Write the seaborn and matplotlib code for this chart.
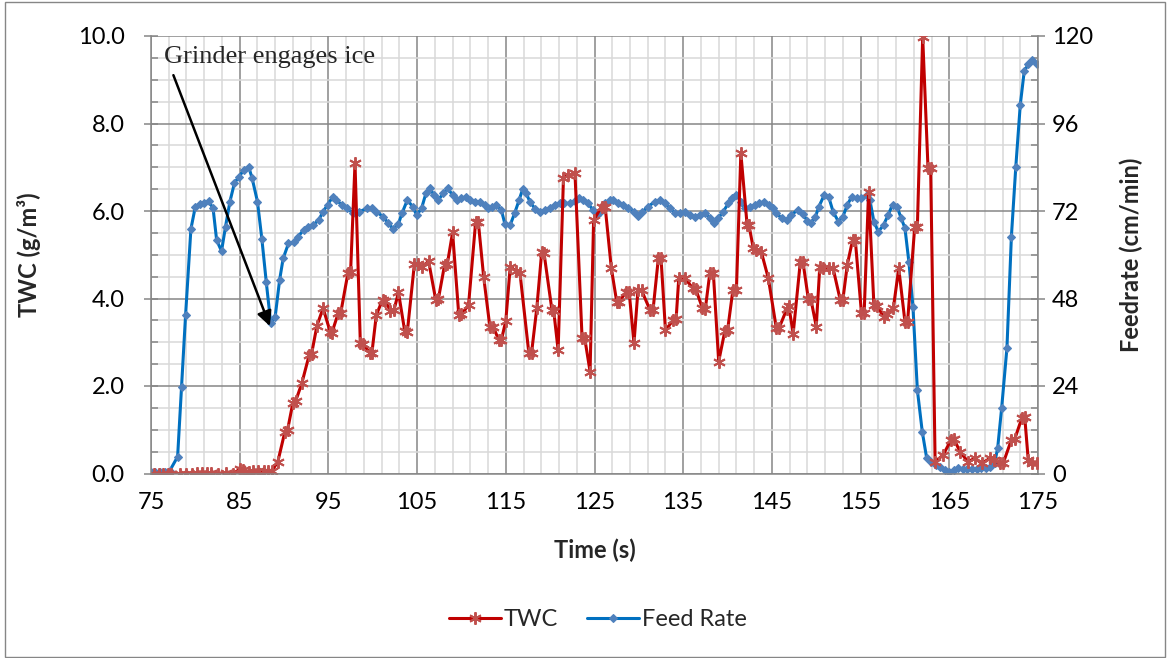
import matplotlib
matplotlib.use("Agg")
import matplotlib.pyplot as plt
import seaborn as sns
from matplotlib.ticker import AutoMinorLocator, FormatStrFormatter
from matplotlib.patches import Rectangle

sns.set_style("white")
plt.rcParams["font.family"] = ["Lato", "DejaVu Sans"]

# ---- data ----
time_twc = [75.3, 75.9, 76.4, 76.9, 77.3, 78.3, 78.9, 79.6, 80.2, 80.7, 81.3, 81.8, 82.5, 83.5,
            84.3, 85.0, 85.4, 86.0, 86.5, 87.1, 87.7, 88.2, 88.6, 89.3, 90.1, 90.4, 91.0, 91.3,
            92.0, 92.85, 93.1, 93.7, 94.4, 95.2, 95.4, 96.1, 96.4, 97.2, 97.5, 98.0, 98.6, 98.9,
            99.7, 99.9, 100.4, 101.1, 101.4, 102.0, 102.4, 102.9, 103.6, 103.9, 104.7, 105.1,
            105.5, 106.3, 107.1, 107.4, 108.1, 108.4, 109.0, 109.7, 110.0, 110.8, 111.6, 111.9,
            112.5, 113.2, 113.6, 114.2, 114.5, 115.0, 115.5, 116.2, 116.6, 117.6, 117.9, 118.5,
            119.05, 119.3, 120.2, 120.4, 120.9, 121.5, 122.0, 122.8, 123.6, 123.9, 124.5, 124.9,
            125.8, 126.2, 126.9, 127.5, 127.8, 128.6, 128.9, 129.45, 129.9, 130.3, 131.25, 131.6,
            132.2, 132.5, 133.0, 133.9, 134.2, 134.5, 135.2, 136.1, 136.4, 137.15, 137.5, 138.0,
            138.4, 139.0, 139.7, 140.0, 140.6, 141.0, 141.5, 142.2, 142.4, 142.9, 143.2, 143.8,
            144.6, 145.5, 145.8, 146.7, 146.9, 147.4, 148.2, 148.5, 149.1, 149.4, 150.0, 150.4,
            150.8, 151.4, 151.9, 152.7, 153.0, 153.5, 154.1, 154.4, 155.1, 155.4, 155.9, 156.5,
            156.9, 157.6, 158.0, 158.7, 159.3, 160.0, 160.3, 161.1, 161.4, 162.0, 162.6, 162.9,
            163.4, 164.3, 165.2, 165.5, 166.2, 167.1, 167.9, 168.65, 169.6, 170.0, 170.7, 171.1,
            172.0, 172.4, 173.2, 173.5, 173.9, 174.3, 174.85]
twc = [0.0, 0.0, 0.0, 0.0, 0.0, 0.0, 0.0, 0.0, 0.02, 0.02, 0.02, 0.02, 0.0, 0.02,
       0.0, 0.1, 0.08, 0.03, 0.06, 0.06, 0.06, 0.05, 0.05, 0.27, 0.96, 1.0, 1.62, 1.65,
       2.06, 2.72, 2.73, 3.37, 3.78, 3.24, 3.22, 3.66, 3.68, 4.58, 4.6, 7.09, 2.98, 2.96,
       2.75, 2.75, 3.62, 3.97, 3.95, 3.72, 3.74, 4.14, 3.26, 3.24, 4.8, 4.78,
       4.72, 4.85, 3.97, 3.99, 4.77, 4.78, 5.51, 3.62, 3.64, 3.85, 5.75, 5.75,
       4.5, 3.36, 3.35, 3.05, 3.05, 3.49, 4.73, 4.62, 4.58, 2.75, 2.75, 3.79,
       5.07, 5.05, 3.74, 3.72, 2.82, 6.75, 6.82, 6.86, 3.09, 3.09, 2.33, 5.79,
       6.1, 6.1, 4.69, 3.93, 3.93, 4.16, 4.16, 2.98, 4.19, 4.19, 3.74, 3.74,
       4.92, 4.92, 3.28, 3.51, 3.53, 4.46, 4.46, 4.23, 4.22, 3.79, 3.77, 4.58,
       4.58, 2.56, 3.26, 3.27, 4.19, 4.2, 7.32, 5.69, 5.69, 5.15, 5.1, 5.07,
       4.46, 3.32, 3.32, 3.77, 3.83, 3.2, 4.83, 4.84, 4.0, 3.98, 3.36, 4.73,
       4.7, 4.7, 4.69, 3.97, 3.97, 4.77, 5.34, 5.34, 3.66, 3.66, 6.44, 3.85,
       3.82, 3.58, 3.65, 3.79, 4.69, 3.47, 3.47, 5.64, 5.64, 9.98, 6.98, 6.98,
       0.27, 0.42, 0.77, 0.8, 0.5, 0.27, 0.35, 0.23, 0.35, 0.3, 0.23, 0.25,
       0.77, 0.8, 1.28, 1.3, 0.31, 0.25, 0.23]

time_feed = [75.0, 75.5, 76.0, 76.6, 77.1, 78.0, 78.45, 78.9, 79.5, 80.0, 80.5, 81.0, 81.5,
             82.0, 82.4, 82.95, 83.4, 83.9, 84.4, 84.9, 85.5, 86.0, 86.4, 87.0, 87.5, 88.0,
             88.5, 89.0, 89.5, 89.9, 90.5, 91.1, 91.6, 92.2, 92.7, 93.3, 93.9, 94.4, 94.9,
             95.5, 95.9, 96.5, 97.1, 97.8, 98.5, 99.3, 99.9, 100.4, 101.2, 101.75, 102.3,
             102.9, 103.3, 103.9, 104.5, 104.95, 105.5, 106.0, 106.45, 106.9, 107.4, 107.95,
             108.45, 109.0, 109.5, 110.0, 110.5, 110.95, 111.5, 112.1, 112.6, 113.0, 113.5,
             113.95, 114.5, 114.9, 115.5, 116.0, 116.5, 116.9, 117.3, 117.7, 118.3, 118.85,
             119.4, 120.0, 120.5, 121.1, 121.6, 122.2, 122.8, 123.3, 123.7, 124.3, 124.8,
             125.25, 125.6, 126.2, 126.7, 127.1, 127.7, 128.25, 128.8, 129.4, 129.9, 130.4,
             131.05, 131.8, 132.4, 132.9, 133.5, 134.1, 134.6, 135.2, 135.8, 136.3, 136.9,
             137.5, 138.0, 138.5, 138.95, 139.5, 140.1, 140.5, 141.0, 141.5, 141.95, 142.5,
             143.1, 143.6, 144.1, 144.7, 145.1, 145.5, 146.1, 146.7, 147.2, 147.9, 148.5,
             149.0, 149.4, 149.9, 150.3, 150.9, 151.4, 151.9, 152.5, 153.0, 153.5, 154.0,
             154.55, 155.1, 155.7, 156.05, 156.5, 157.0, 157.6, 158.1, 158.6, 159.1, 159.55,
             160.0, 160.45, 160.9, 161.4, 161.95, 162.45, 162.9, 163.5, 163.95, 164.5, 165.0,
             165.5, 166.0, 166.5, 167.0, 167.6, 168.1, 168.6, 169.1, 169.6, 170.1, 170.45,
             170.9, 171.5, 172.0, 172.5, 173.0, 173.45, 173.9, 174.35, 174.85]
feed = [0.5, 0.5, 0.5, 0.5, 0.7, 4.6, 23.8, 43.5, 67.1, 73.2, 74.0, 74.3, 74.7,
        72.7, 64.0, 61.0, 67.7, 74.6, 79.6, 81.4, 83.3, 84.2, 81.0, 74.6, 64.3, 52.4,
        41.2, 43.0, 53.1, 59.0, 63.1, 63.5, 65.0, 66.8, 67.7, 68.2, 69.5, 71.8, 73.7,
        75.9, 75.0, 73.7, 72.7, 71.4, 71.8, 72.7, 72.7, 71.8, 70.4, 68.6, 67.1,
        68.5, 71.4, 75.0, 73.2, 70.9, 72.7, 76.9, 78.2, 76.4, 75.0, 76.9,
        78.2, 76.4, 75.0, 75.5, 75.9, 75.0, 74.6, 74.6, 73.7, 72.7, 73.2,
        73.7, 72.3, 68.4, 68.2, 71.4, 75.0, 78.0, 76.9, 74.6, 72.6, 71.8,
        72.3, 72.9, 73.7, 74.1, 74.1, 74.1, 74.8, 75.5, 75.0, 74.1, 72.3,
        70.9, 71.8, 74.1, 75.0, 75.0, 74.1, 73.7, 72.9, 71.8, 70.6, 71.8,
        73.2, 74.6, 75.0, 74.1, 72.7, 71.4, 71.4, 71.8, 70.9, 70.4, 70.9,
        71.4, 70.0, 68.6, 70.0, 71.8, 74.1, 75.7, 76.4, 74.6, 72.7, 73.2,
        73.7, 74.1, 74.6, 73.7, 72.8, 71.4, 70.0, 69.5, 70.9, 72.3, 71.1,
        69.3, 68.6, 70.4, 73.2, 76.4, 75.9, 71.8, 69.1, 70.4, 73.7, 75.9,
        75.5, 75.5, 76.4, 75.0, 69.1, 66.3, 68.2, 70.9, 73.7, 73.2, 70.2,
        67.3, 57.9, 45.8, 22.9, 11.5, 4.2, 3.2, 2.3, 1.9, 1.0, 0.5,
        1.0, 1.4, 1.2, 1.2, 1.2, 1.3, 1.5, 1.5, 1.9, 2.8, 6.9,
        17.9, 34.5, 65.0, 84.2, 101.1, 110.4, 112.2, 113.4, 112.2]

x_ticks = [75, 85, 95, 105, 115, 125, 135, 145, 155, 165, 175]
twc_ticks = [0.0, 2.0, 4.0, 6.0, 8.0, 10.0]
feed_ticks = [0, 24, 48, 72, 96, 120]

note_text = "Grinder engages ice"
note_tip = (88.4, 3.37)
note_pos = (76.5, 9.52)

# ---- figure ----
W, H = 1170, 658
fig = plt.figure(figsize=(W / 100, H / 100), dpi=100)
fig.patch.set_facecolor("white")
ax = fig.add_axes([151 / W, 1 - 473.5 / H, 887 / W, 437.5 / H])
ax2 = ax.twinx()
# TWC drawn above the feed-rate series and the grid
ax.set_zorder(ax2.get_zorder() + 1)
ax.patch.set_visible(False)

GRID_MAJ = "#868686"
GRID_MIN = "#D9D9D9"
FS = 17

sns.lineplot(x=time_feed, y=feed, ax=ax2, color="#0070C0", linewidth=2.2,
             marker="D", markersize=4.5, markerfacecolor="#4F81BD",
             markeredgecolor="#4F81BD", markeredgewidth=0.8,
             sort=False, estimator=None, legend=False)
sns.lineplot(x=time_twc, y=twc, ax=ax, color="#C00000", linewidth=2.2,
             marker=(6, 2, 0), markersize=9, markeredgecolor="#C0504D",
             markerfacecolor="#C0504D", markeredgewidth=1.4,
             sort=False, estimator=None, legend=False)

ax.set_xlim(75, 175)
ax.set_ylim(0, 10)
ax2.set_ylim(0, 120)
ax.set_xticks(x_ticks)
ax.set_xticklabels([str(v) for v in x_ticks])
ax.xaxis.set_minor_locator(AutoMinorLocator(5))
ax.set_yticks(twc_ticks)
ax.yaxis.set_major_formatter(FormatStrFormatter("%.1f"))
ax.yaxis.set_minor_locator(AutoMinorLocator(4))
ax2.set_yticks(feed_ticks)
ax2.yaxis.set_minor_locator(AutoMinorLocator(4))

# grid lives on the lower axes
ax.grid(False)
ax2.xaxis.set_visible(True)
ax2.tick_params(axis="x", which="both", bottom=False, top=False,
                labelbottom=False, labeltop=False)
ax2.grid(which="major", axis="both", color=GRID_MAJ, linewidth=1.1)
ax2.grid(which="minor", axis="both", color=GRID_MIN, linewidth=1.1)
ax2.set_axisbelow(True)

for a in (ax, ax2):
    for s in a.spines.values():
        s.set_visible(False)
ax.spines["left"].set_visible(True)
ax.spines["bottom"].set_visible(True)
ax2.spines["right"].set_visible(True)
for s in (ax.spines["left"], ax.spines["bottom"], ax2.spines["right"]):
    s.set_color(GRID_MAJ)
    s.set_linewidth(1.1)

ax.tick_params(axis="x", which="major", direction="out", length=8, width=1.1,
               color=GRID_MAJ, pad=5, labelsize=FS, labelcolor="black")
ax.tick_params(axis="x", which="minor", direction="in", length=5, width=1.1,
               color=GRID_MAJ)
ax.tick_params(axis="y", which="major", direction="inout", length=10, width=1.1,
               color=GRID_MAJ, pad=14, labelsize=FS, labelcolor="black")
ax.tick_params(axis="y", which="minor", direction="in", length=5, width=1.1,
               color=GRID_MAJ)
ax2.tick_params(axis="y", which="major", direction="inout", length=10, width=1.1,
                color=GRID_MAJ, pad=5, labelsize=FS, labelcolor="black")
ax2.tick_params(axis="y", which="minor", direction="in", length=5, width=1.1,
                color=GRID_MAJ)

ax.set_xlabel("Time (s)", fontsize=FS, fontweight="bold")
ax.set_ylabel("TWC (g/m³)", fontsize=FS, fontweight="bold")
ax2.set_ylabel("Feedrate (cm/min)", fontsize=FS, fontweight="bold")
ax.xaxis.set_label_coords(0.5, -0.148)
ax.yaxis.set_label_coords(-0.124, 0.5)
ax2.yaxis.set_label_coords(1.0924, 0.5)

ax.annotate(note_text, xy=note_tip, xytext=note_pos, textcoords="data",
            fontsize=19, family="Liberation Serif", ha="left", va="center",
            arrowprops=dict(arrowstyle="-|>", color="black", lw=1.8,
                            mutation_scale=22, relpos=(0.03, 0.0),
                            shrinkA=3, shrinkB=0))

fig.legend(handles=[ax.lines[0], ax2.lines[0]], labels=["TWC", "Feed Rate"],
           loc="center", bbox_to_anchor=(0.511, 0.058), ncol=2, frameon=False,
           fontsize=FS, handlelength=2.2, handletextpad=0.15, columnspacing=1.2,
           numpoints=1)

fig.add_artist(Rectangle((0.004, 0.002), 0.992, 0.995, transform=fig.transFigure,
                         fill=False, edgecolor=GRID_MAJ, linewidth=1.0))

fig.savefig("out.png", dpi=100, facecolor="white")
